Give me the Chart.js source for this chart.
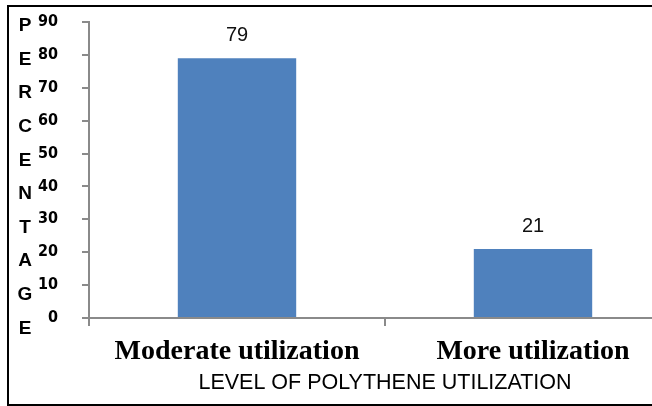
<!DOCTYPE html>
<html lang="en">
<head>
  <meta charset="UTF-8" />
  <title>Level of polythene utilization</title>
  <script src="https://cdn.jsdelivr.net/npm/chart.js"></script>
  <style>
    body { margin: 0; background: #fff; }
    .frame { position: relative; width: 652px; height: 406px; overflow: hidden; background: #fff; }
    .frame canvas { position: absolute; left: 0; top: 0; }
    .edge { position: absolute; left: 7px; top: 5px; width: 700px; height: 397px;
            border-top: 2px solid #000; border-left: 2px solid #000; border-bottom: 2px solid #000; }
  </style>
</head>
<body>
  <div class="frame">
    <canvas id="levelChart" width="700" height="406"></canvas>
    <div class="edge"></div>
  </div>
  <script>
    // values
    const categories = ['Moderate utilization', 'More utilization'];
    const percentages = [79, 21];
    const yTicks = [0, 10, 20, 30, 40, 50, 60, 70, 80, 90];
    const yLetters = ['P', 'E', 'R', 'C', 'E', 'N', 'T', 'A', 'G', 'E'];
    const xTitle = 'LEVEL OF POLYTHENE UTILIZATION';

    const axisGrey = '#8a8a8a';

    // value labels above each bar
    const barValues = {
      id: 'barValues',
      afterDatasetsDraw(chart) {
        const ctx = chart.ctx;
        ctx.save();
        ctx.font = '20px "Liberation Sans", Arial, sans-serif';
        ctx.fillStyle = '#111';
        ctx.textAlign = 'center';
        ctx.textBaseline = 'alphabetic';
        chart.getDatasetMeta(0).data.forEach((bar, i) => {
          ctx.fillText(String(percentages[i]), bar.x, bar.y - 17);
        });
        ctx.restore();
      }
    };

    // stacked letters of the y title
    const stackedTitle = {
      id: 'stackedTitle',
      afterDraw(chart) {
        const ctx = chart.ctx;
        ctx.save();
        ctx.font = 'bold 19px "Liberation Sans", Arial, sans-serif';
        ctx.fillStyle = '#000';
        ctx.textAlign = 'center';
        ctx.textBaseline = 'middle';
        yLetters.forEach((ch, i) => {
          ctx.fillText(ch, 25, 26 + i * 33.6);
        });
        ctx.restore();
      }
    };

    new Chart(document.getElementById('levelChart'), {
      type: 'bar',
      data: {
        labels: categories,
        datasets: [{
          data: percentages,
          backgroundColor: '#4f81bd',
          barPercentage: 0.4,
          categoryPercentage: 1
        }]
      },
      options: {
        responsive: false,
        animation: false,
        layout: { padding: { left: 0, right: 19, top: 22, bottom: 0 } },
        plugins: { legend: { display: false }, tooltip: { enabled: false } },
        scales: {
          x: {
            afterFit(scale) { scale.height = 88; },
            grid: { drawOnChartArea: false, color: axisGrey, lineWidth: 2, tickLength: 8 },
            border: { color: axisGrey, width: 2 },
            ticks: {
              color: '#000',
              padding: 9,
              font: { family: '"Liberation Serif", "Times New Roman", serif', size: 28, weight: 'bold' }
            },
            title: {
              display: true,
              text: xTitle,
              color: '#000',
              padding: { top: 0, bottom: 10 },
              font: { family: '"Liberation Sans", Arial, sans-serif', size: 21.5 }
            }
          },
          y: {
            min: 0,
            max: yTicks[yTicks.length - 1],
            afterFit(scale) {
              scale.width = 89;
              // tick padding would otherwise push the plot top down
              scale.paddingTop = 0;
              scale.paddingBottom = 0;
            },
            afterBuildTicks(scale) { scale.ticks = yTicks.map(v => ({ value: v })); },
            grid: { drawOnChartArea: false, color: axisGrey, lineWidth: 2, tickLength: 7 },
            border: { color: axisGrey, width: 2 },
            ticks: {
              color: '#000',
              padding: 24,
              font: { family: '"Liberation Sans Narrow", "DejaVu Sans Condensed", Arial, sans-serif', size: 16, weight: 'bold' }
            }
          }
        }
      },
      plugins: [barValues, stackedTitle]
    });
  </script>
</body>
</html>
